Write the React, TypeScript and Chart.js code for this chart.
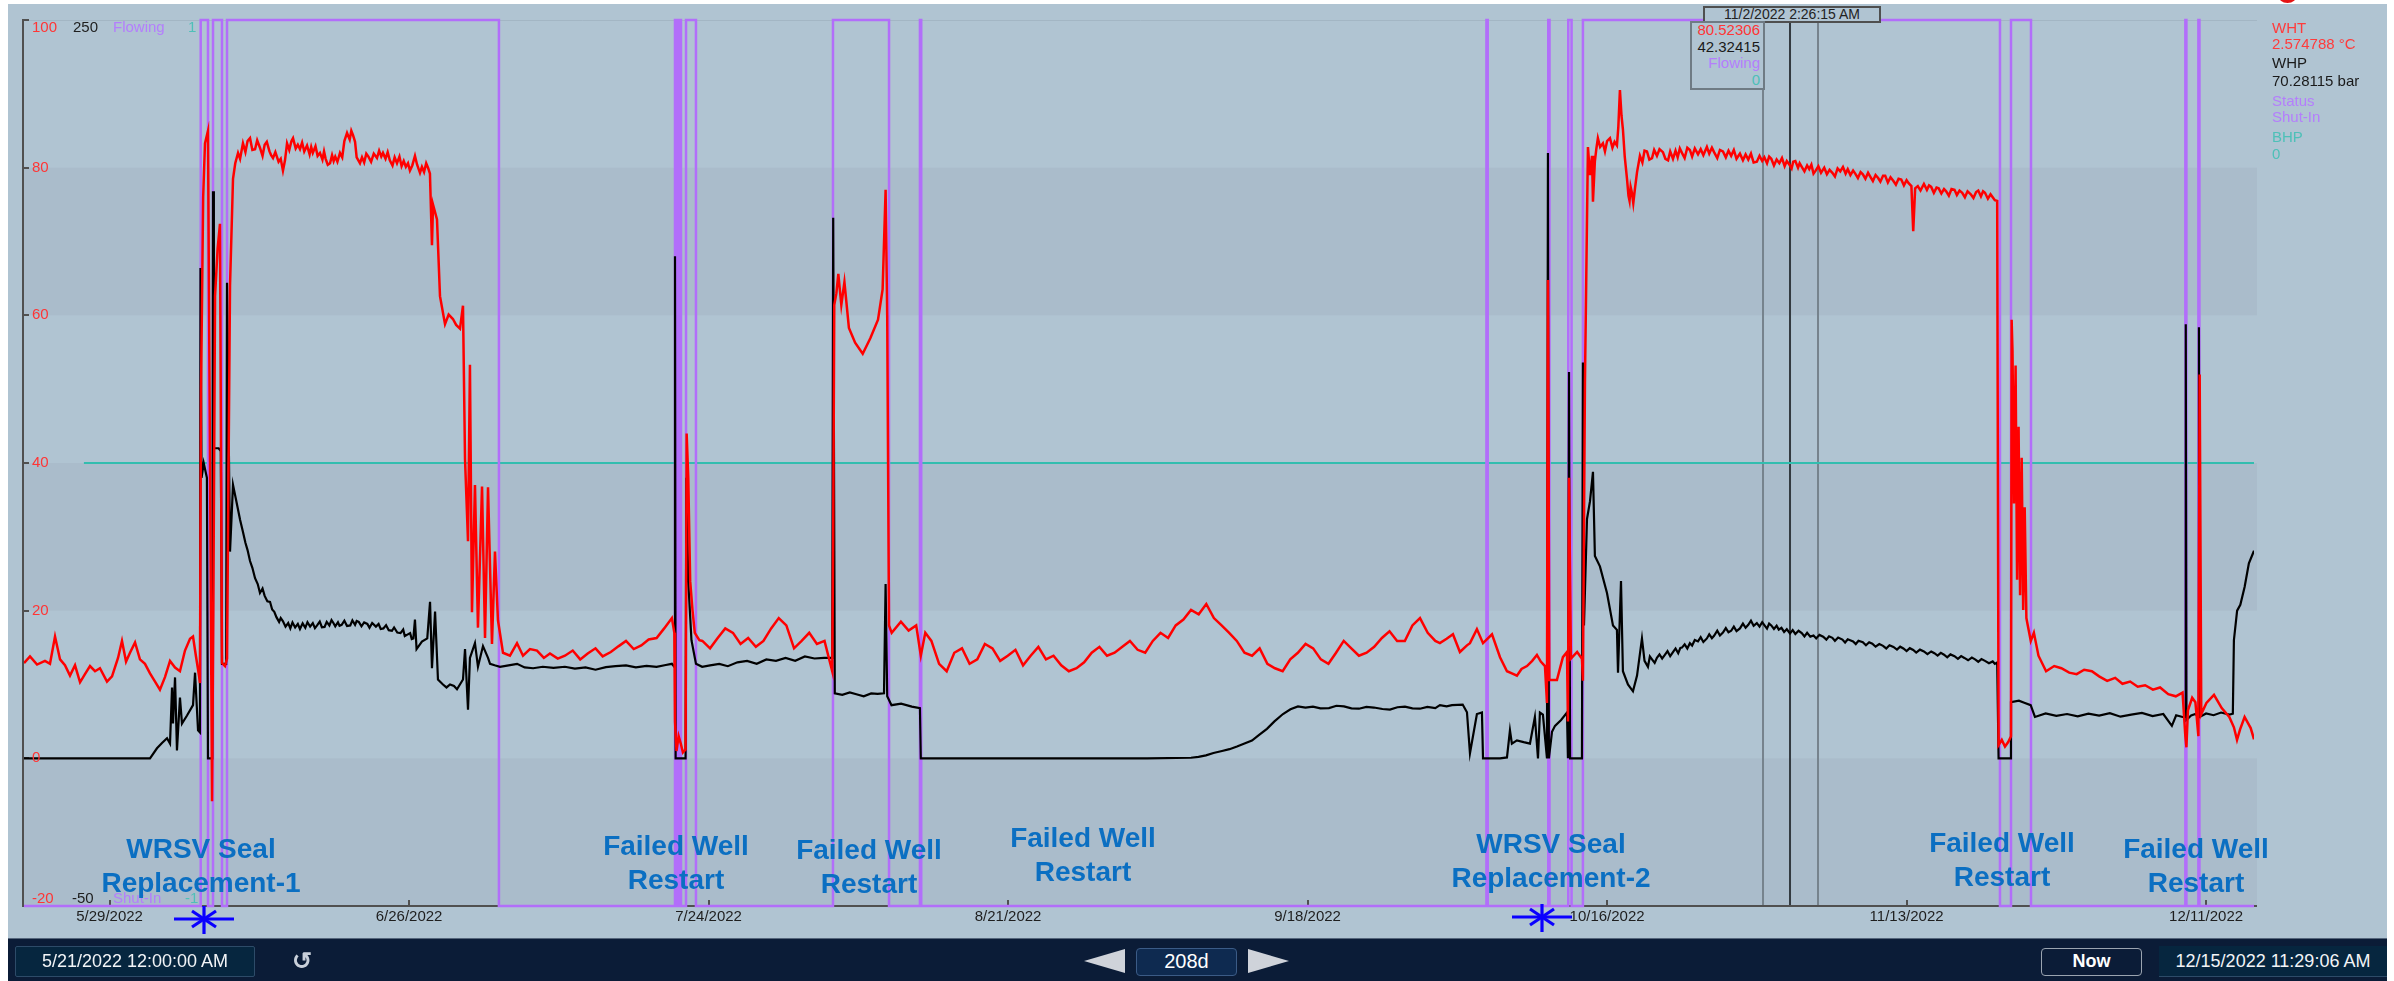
import React, { useEffect, useRef } from 'react';
import { Chart, registerables } from 'chart.js';

Chart.register(...registerables);

const FONT = '"Liberation Sans", Arial, Helvetica, sans-serif';

// x axis: days since 5/21/2022 00:00 up to 12/15/2022 11:29:06
const X_MIN = 0;
const X_MAX = 208.4785;
const dateTickDays = [8, 36, 64, 92, 120, 148, 176, 204];
const dateTickLabels = ['5/29/2022', '6/26/2022', '7/24/2022', '8/21/2022', '9/18/2022', '10/16/2022', '11/13/2022', '12/11/2022'];
const whtTicks = [100, 80, 60, 40, 20, 0, -20];
const darkBands: [number, number][] = [[80, 60], [40, 20], [0, -20]];
const cursorDay = 165.101; // 11/2/2022 2:26:15 AM

// WHT (°C), [day, value]
const whtPoints: [number, number][] = [
  [0, 12.9], [0.56, 13.8], [1.22, 12.7], [1.96, 13.2], [2.43, 12.8], [2.9, 16.5], [3.37, 13.4], [3.83, 12.6], [4.3, 11.2], [4.77, 12.6], [5.24, 10.3], [5.7, 11.4], [6.17, 12.5], [6.64, 11.8], [7.1, 12.2], [7.76, 10.4], [8.23, 11.1], [8.79, 13.6], [9.16, 15.9], [9.54, 13.1], [9.91, 14.3], [10.38, 15.7], [10.84, 13.4], [11.31, 12.8], [11.78, 11.5], [12.25, 10.4], [12.71, 9.3], [13.18, 11], [13.65, 13.2], [14.12, 12.3], [14.58, 11.8], [15.05, 14.6], [15.52, 16.2], [15.8, 16.5], [16.08, 13.8], [16.36, 11.2], [16.45, 10.2],
  [16.55, 50], [16.75, 76], [16.92, 83.3], [17.2, 85], [17.39, 40], [17.58, -5.8], [17.7, 20], [17.86, 62.6], [18.1, 69], [18.32, 72.4], [18.51, 12.9], [18.79, 12.5], [18.98, 13.5], [19.26, 64],
  [19.54, 78.5], [19.75, 80.6], [20.01, 82], [20.2, 81.2], [20.47, 83.3], [20.7, 82.1], [20.9, 83.6], [21.13, 84], [21.35, 82.4], [21.6, 82.5], [21.8, 83.7], [22.06, 82.7], [22.3, 81.6], [22.5, 83.1], [22.7, 83.5], [22.95, 82.2], [23.1, 81.7], [23.28, 81.3], [23.5, 82.1], [23.8, 80.8], [24.0, 81.2], [24.21, 79.6], [24.4, 81], [24.59, 83.3], [24.8, 82.4], [25.0, 83.6], [25.15, 84], [25.4, 82.6], [25.6, 83.1], [25.8, 82.5], [26.0, 83.4], [26.2, 82.2], [26.46, 83], [26.7, 81.8], [26.85, 82.8], [27.0, 82], [27.25, 82.9], [27.45, 81.6], [27.67, 82], [27.9, 81.1], [28.05, 82.2], [28.2, 81.2], [28.4, 80.4], [28.61, 80.6], [28.8, 81.7], [28.95, 80.9], [29.1, 81.5], [29.3, 80.8], [29.54, 82], [29.75, 81.4], [29.95, 83.6], [30.2, 84.7], [30.45, 83.8], [30.6, 85], [30.76, 84.4], [30.95, 83.5], [31.1, 81.4], [31.41, 80.6], [31.6, 81.4], [31.8, 80.7], [32.0, 81.9], [32.2, 81.5], [32.45, 80.8], [32.7, 81.9], [33.0, 81.3], [33.2, 82.3], [33.4, 81.5], [33.56, 82], [33.8, 81.2], [34.0, 82.1], [34.2, 81], [34.45, 80.3], [34.65, 81.4], [34.87, 80.6], [35.1, 81.5], [35.3, 80.2], [35.5, 80.9], [35.7, 80.1], [35.9, 80.6], [36.08, 79.6], [36.3, 80.3], [36.55, 81.6], [36.75, 80.4], [37.02, 79.3], [37.2, 80.1], [37.4, 79.4], [37.6, 80.6], [37.77, 80], [37.95, 79.2],
  [38.14, 69.5], [38.24, 75], [38.61, 73], [38.89, 62.6], [39.36, 58.8], [39.7, 60.1], [40.1, 59.5], [40.4, 58.7], [40.76, 58.2], [41.04, 61.3], [41.23, 40.5], [41.51, 29.4], [41.69, 53.3], [41.88, 19.8], [42.16, 37], [42.44, 17.7], [42.82, 36.8], [43.1, 16.3], [43.38, 36.7], [43.75, 15.5], [44.03, 28], [44.31, 18.7], [44.78, 14.3],
  [45.43, 13.9], [46.09, 15.6], [46.65, 13.9], [47.3, 14.8], [47.96, 14.6], [48.6, 13.6], [49.17, 14.2], [49.9, 13.5], [50.57, 13.9], [51.3, 14.6], [52.0, 13.4], [52.7, 14.2], [53.43, 14.9], [54.1, 13.8], [54.86, 14.4], [55.6, 15.2], [56.28, 15.9], [57.0, 14.8], [57.71, 15.3], [58.4, 16.1], [59.14, 16.3], [59.85, 17.6], [60.57, 19], [60.8, 17],
  [60.86, 5], [61.0, 1], [61.2, 3], [61.4, 2], [61.6, 0.8], [61.85, 1.2], [61.95, 44], [62.1, 38], [62.28, 24], [62.5, 20], [62.71, 17], [63.14, 16], [63.42, 15.9], [64.14, 14.9], [64.85, 16.3], [65.56, 17.6], [66.28, 17], [66.99, 15.5], [67.7, 16.3], [68.42, 15.1], [69.13, 15.9], [69.85, 17.6], [70.56, 19], [71.27, 18], [71.99, 14.9], [72.7, 15.9], [73.41, 17], [74.13, 15.5], [74.84, 15.9], [75.56, 11.8],
  [75.65, 30], [75.75, 61.4], [75.95, 63], [76.13, 65.6], [76.41, 61.4], [76.7, 64.5], [77.12, 58.3], [77.7, 56.3], [78.41, 54.8], [79.12, 56.9], [79.84, 59.4], [80.27, 63.5], [80.55, 77], [80.7, 60], [80.87, 18], [81.12, 17], [81.98, 18.5], [82.7, 17.3], [83.41, 18],
  [83.84, 13.9], [84.26, 17], [84.83, 15.9], [85.55, 12.8], [86.26, 11.8], [86.97, 14.3], [87.69, 14.9], [88.4, 12.8], [89.12, 13.4], [89.83, 15.5], [90.54, 14.9], [91.26, 13.2], [91.97, 13.9], [92.69, 14.7], [93.4, 12.6], [94.11, 13.9], [94.83, 15.1], [95.54, 13.4], [96.25, 13.9], [96.97, 12.6], [97.68, 11.8], [98.4, 12.2], [99.11, 13], [99.82, 14.3], [100.54, 15.1], [101.25, 13.9], [101.96, 14.3], [102.68, 15.1], [103.39, 15.9], [104.11, 14.7], [104.82, 14.3], [105.53, 15.9], [106.25, 17], [106.96, 16.3], [107.67, 18], [108.39, 18.8], [109.1, 20.1], [109.82, 19.5], [110.53, 20.9], [111.24, 19], [111.96, 18], [112.67, 17], [113.38, 15.9], [114.1, 14.3], [114.81, 13.9], [115.52, 14.9], [116.24, 12.8], [116.95, 12.2], [117.67, 11.8], [118.38, 13.4], [119.09, 14.3], [119.81, 15.5], [120.52, 14.9], [121.24, 13.4], [121.95, 12.8], [122.66, 14.3], [123.38, 15.9], [124.09, 14.9], [124.8, 13.9], [125.52, 14.3], [126.23, 15.1], [126.95, 16.3], [127.66, 17.2], [128.37, 15.9], [129.09, 15.9], [129.8, 18], [130.51, 19], [131.23, 17], [131.94, 15.9],
  [132.37, 15.6], [133.0, 16.2], [133.59, 16.8], [134.24, 14.4], [134.9, 15.3], [135.18, 15.6], [135.83, 17.5], [136.4, 15.6], [137.24, 16.8], [137.99, 13.7], [138.64, 11.8], [139.1, 11.5], [139.57, 11.2], [140.0, 12.1], [140.51, 12.5], [141.0, 13.2], [141.44, 14], [141.8, 13.1], [142.19, 12.5], [142.38, 7.5], [142.47, 64.8], [142.6, 10.6], [143.31, 10.6], [143.87, 13.7], [144.25, 14.4], [144.34, 5], [144.44, 38], [144.62, 13.5], [145.2, 14.4], [145.65, 13.5], [145.74, 10.5], [145.93, 51], [146.12, 72.8], [146.21, 82.8], [146.4, 79], [146.59, 81.6], [146.68, 75.4], [146.86, 80.9],
  [147.0, 82.6], [147.14, 84], [147.35, 82.8], [147.61, 83.3], [147.8, 82.2], [148.0, 83.6], [148.27, 84], [148.5, 82.7], [148.7, 83.5], [148.92, 83], [149.05, 85.5], [149.2, 90.5], [149.35, 87], [149.48, 85.2], [149.65, 81.5], [149.86, 78.5], [150.0, 76.2], [150.1, 75.5], [150.2, 77.4], [150.32, 76.6], [150.45, 75.2], [150.6, 77.1], [150.8, 79.4], [151.07, 81.6], [151.3, 80.7], [151.5, 82.3], [151.73, 82.2], [151.95, 81.1], [152.2, 81.3], [152.4, 82.4], [152.66, 81.6], [152.9, 82.5], [153.22, 82.1], [153.45, 81.2], [153.7, 81.0], [153.9, 82.2], [154.16, 81.2], [154.4, 82.3], [154.6, 81.4], [154.8, 82.6], [155.0, 82.0], [155.25, 81.3], [155.5, 82.7], [155.74, 82.4], [155.95, 81.5], [156.2, 82.6], [156.5, 81.8], [156.75, 82.5], [157.0, 81.7], [157.33, 82.8], [157.55, 81.9], [157.8, 82.7], [158.0, 82.1], [158.3, 81.3], [158.55, 82.4], [158.83, 82.2], [159.1, 81.4], [159.35, 82.3], [159.6, 81.6], [159.85, 82.4], [160.1, 81.2], [160.42, 81.9], [160.7, 81.0], [160.95, 81.8], [161.2, 81.1], [161.45, 81.9], [161.7, 80.7], [162.0, 80.8], [162.25, 81.6], [162.5, 80.9], [162.7, 81.4], [162.95, 80.6], [163.15, 81.5], [163.35, 81.2], [163.6, 80.3], [163.85, 81.1], [164.1, 80.6], [164.35, 81.3], [164.6, 80.2], [164.8, 80.9], [165.0, 80.5], [165.25, 79.9], [165.4, 80.8], [165.6, 80.9], [165.85, 80.0], [166.0, 80.6], [166.2, 80.1], [166.45, 79.5], [166.7, 80.3], [166.9, 79.8], [167.1, 80.4], [167.3, 79.2], [167.5, 79.6], [167.75, 80.2], [168.0, 79.3], [168.3, 80.0], [168.55, 79.1], [168.8, 79.7], [169.06, 79.3], [169.3, 78.8], [169.55, 79.9], [169.8, 79.5], [170.05, 80.1], [170.3, 79.2], [170.5, 79.8], [170.75, 79.0], [171.0, 79.6], [171.2, 79.2], [171.45, 78.6], [171.7, 79.4], [171.91, 79.1], [172.15, 78.5], [172.4, 79.3], [172.6, 78.8], [172.85, 78.2], [173.1, 79.0], [173.34, 78.6], [173.55, 78.1], [173.8, 78.9], [174.0, 78.9], [174.25, 78.0], [174.5, 78.7], [174.77, 78.2], [175.0, 77.7], [175.25, 78.5], [175.5, 78.4], [175.75, 77.6], [176.0, 78.3], [176.19, 77.9], [176.45, 77.5], [176.62, 71.4], [176.8, 77.2], [177.05, 77.5], [177.3, 76.9], [177.62, 77.8], [177.9, 77.0], [178.1, 77.6], [178.3, 77.4], [178.55, 76.6], [178.8, 77.3], [179.0, 77.2], [179.25, 76.5], [179.5, 77.1], [179.7, 76.8], [179.95, 76.2], [180.2, 77.1], [180.48, 77.0], [180.7, 76.3], [180.95, 76.9], [181.2, 76.6], [181.45, 76.0], [181.7, 76.8], [182.0, 76.4], [182.25, 75.9], [182.5, 76.7], [182.7, 76.9], [182.95, 76.1], [183.15, 76.8], [183.33, 76.6], [183.6, 75.8], [183.85, 76.4], [184.05, 76.0], [184.25, 75.6], [184.47, 75.5],
  [184.6, 1.8], [184.9, 2.5], [185.2, 1.6], [185.5, 2.2], [185.76, 3], [185.82, 59.4], [185.9, 55.2], [186.04, 34.5], [186.19, 53.2], [186.33, 24.2], [186.47, 44.9], [186.61, 22.1], [186.76, 40.7], [186.9, 20.1], [187.04, 34], [187.2, 19], [187.33, 18], [187.61, 15.9], [187.9, 17], [188.33, 13.9], [189.04, 11.8], [189.8, 12.5], [190.47, 12.2], [191.2, 11.6], [191.9, 11.4], [192.6, 12.0], [193.32, 11.8], [194.0, 11.1], [194.75, 10.5], [195.5, 10.9], [196.18, 10.1], [196.9, 10.4], [197.61, 9.7], [198.3, 9.9], [199.03, 9.3], [199.7, 9.6], [200.46, 8.7], [201.17, 8.4], [201.8, 8.9], [202.06, 3], [202.16, 1.5], [202.3, 6.5], [202.7, 8.2], [203.0, 7.6], [203.28, 3], [203.4, 52], [203.55, 6], [204.03, 7.5], [204.74, 8.6], [205.46, 6.8], [206.17, 5.6], [206.6, 4.2], [206.89, 2.5], [207.17, 3.9], [207.6, 5.6], [208.17, 4.1], [208.48, 2.57],
];

// WHP (bar), [day, value]
const whpPoints: [number, number][] = [
  [0, 0], [2, 0], [4, 0], [6, 0], [8, 0], [10, 0], [11.78, 0], [12.43, 3.4], [12.9, 5.2], [13.37, 6.8], [13.65, 5], [13.84, 24], [13.93, 11.8], [14.12, 27.4], [14.3, 2.7], [14.58, 20.6], [14.77, 11.8], [15.24, 14.5], [15.8, 18], [15.99, 29], [16.27, 9.5], [16.45, 8.8],
  [16.5, 166], [16.6, 95], [16.8, 100], [17.1, 95], [17.2, 0], [17.6, 0], [17.67, 192], [17.75, 105], [18.2, 105], [18.4, 104], [18.51, 32], [18.9, 32], [18.98, 161], [19.26, 70], [19.54, 92.6], [19.8, 88], [20.2, 80.8],
  [20.45, 77], [20.7, 73], [20.9, 70.5], [21.13, 66.8], [21.35, 64.5], [21.6, 61], [21.85, 59], [22.06, 56], [22.3, 57.5], [22.5, 55], [22.75, 53.2], [23.0, 53], [23.2, 50.4], [23.4, 49.6], [23.6, 47.8], [23.85, 46.2], [24.0, 47.5], [24.2, 46.5], [24.45, 44.6], [24.7, 45.8], [24.9, 44], [25.1, 46], [25.35, 44.3], [25.6, 45.5], [25.8, 43.8], [26.05, 45.7], [26.3, 44.2], [26.5, 46.1], [26.75, 44.6], [27.0, 45.8], [27.2, 44.1], [27.4, 45], [27.65, 46.3], [27.85, 44.4], [28.1, 44.5], [28.3, 46.2], [28.55, 45], [28.75, 46.8], [28.9, 46], [29.1, 44.7], [29.35, 46.1], [29.5, 44.9], [29.7, 45.2], [29.95, 46.6], [30.2, 44.8], [30.5, 45], [30.7, 46.7], [30.95, 45.2], [31.1, 46.5], [31.3, 46.2], [31.55, 44.7], [31.8, 46], [32.1, 45.5], [32.3, 44.2], [32.55, 45.8], [32.9, 44.6], [33.15, 45.5], [33.35, 43.8], [33.6, 44], [33.85, 45.1], [34.1, 43.4], [34.4, 43.2], [34.6, 44.3], [34.9, 42.6], [35.2, 42.4], [35.45, 43.6], [35.6, 41.4], [35.8, 41.8], [36.1, 42.4], [36.25, 40.4], [36.4, 40.6],
  [36.55, 47], [36.7, 37], [37.2, 39.5], [37.7, 40.6], [37.96, 53], [38.14, 30.5], [38.43, 49.7], [38.7, 26.7], [39.17, 25], [39.5, 24], [39.83, 25], [40.2, 24.5], [40.48, 23.4], [41.04, 26.7], [41.23, 37], [41.51, 16.5], [41.69, 34], [42.16, 39], [42.44, 31], [42.91, 38], [43.38, 34], [43.57, 32], [44.0, 31.5], [44.5, 31],
  [45.3, 31.5], [46.1, 32], [46.8, 30.8], [47.6, 30.5], [48.5, 31], [49.5, 30.6], [50.57, 31], [51.5, 30.4], [52.5, 30.8], [53.43, 30], [54.4, 30.9], [55.3, 31.2], [56.28, 31.5], [57.2, 30.8], [58.2, 31.3], [59.14, 31], [60.0, 31.6], [60.57, 32], [60.8, 31],
  [60.86, 170], [60.92, 0], [61.4, 0], [61.85, 0], [61.92, 95], [62.1, 60], [62.4, 40], [62.82, 32], [63.4, 31], [64.14, 31.5], [65.0, 32], [65.8, 31.2], [66.7, 32.5], [67.6, 33], [68.5, 32], [69.4, 33.5], [70.3, 33], [71.2, 34], [72.1, 33], [73.0, 34.5], [73.9, 33.8], [74.8, 34], [75.56, 34],
  [75.65, 183], [75.8, 22], [76.5, 21.5], [77.2, 22.3], [77.9, 21.6], [78.5, 21], [79.2, 22], [79.8, 21.8], [80.4, 22], [80.55, 59], [80.7, 21], [81.1, 18], [82.0, 18.5], [83.0, 17.5], [83.76, 17], [83.84, 0],
  [86, 0], [90, 0], [95, 0], [100, 0], [105, 0], [109.1, 0.2], [109.8, 0.5], [110.5, 1], [111.2, 1.8], [112.0, 2.5], [112.7, 3.1], [113.4, 4], [114.1, 5], [114.8, 6], [115.5, 8], [116.2, 10], [116.9, 12.5], [117.7, 15], [118.4, 16.6], [119.1, 17.6], [119.8, 17.2], [120.5, 17.5], [121.2, 16.9], [122.0, 17], [122.7, 17.8], [123.4, 17.6], [124.1, 16.9], [124.8, 16.8], [125.5, 17.4], [126.2, 17.2], [127.0, 16.7], [127.7, 16.5], [128.4, 17.3], [129.1, 17.5], [129.8, 16.9], [130.5, 16.8], [131.2, 17.4], [131.94, 17],
  [132.37, 18], [133.0, 17.6], [133.5, 18], [134.5, 18.2], [134.9, 15.6], [135.18, 1.7], [135.83, 15], [136.3, 15.5], [136.4, 0], [137, 0], [138, 0], [138.64, 0.3], [138.92, 9.5], [139.1, 5], [139.57, 6.1], [140.2, 5.5], [140.79, 5], [141.25, 14], [141.54, 0], [141.72, 15.5], [142.0, 14.8], [142.38, 0], [142.47, 205], [142.56, 0], [142.85, 9], [143.13, 11], [143.7, 13], [144.25, 15.5], [144.34, 0], [144.44, 130.8], [144.54, 0], [145.65, 0], [145.74, 134], [145.84, 45], [146.12, 81], [146.4, 87], [146.68, 97], [146.86, 68.5], [147.33, 65], [147.99, 56], [148.55, 45], [148.92, 43.5], [149.02, 29], [149.3, 60], [149.48, 29.5], [149.95, 25], [150.42, 22.7], [150.8, 28],
  [151.26, 40.6], [151.5, 33], [151.82, 31], [152.0, 34.5], [152.2, 33.5], [152.45, 32.3], [152.66, 34], [152.9, 35.2], [153.15, 33.8], [153.4, 35], [153.65, 36.3], [153.9, 34.6], [154.16, 36], [154.4, 37.2], [154.65, 35.6], [154.85, 37.4], [155.0, 37.5], [155.25, 38.6], [155.5, 37.2], [155.74, 39], [155.95, 38.2], [156.2, 40.1], [156.5, 39.6], [156.75, 41], [157.0, 39.4], [157.33, 40.6], [157.55, 42], [157.8, 40.7], [158.0, 41.5], [158.3, 43.2], [158.55, 41.6], [158.83, 42.6], [159.1, 44.1], [159.35, 42.7], [159.6, 43.2], [159.85, 44.6], [160.1, 43.1], [160.42, 44], [160.7, 45.6], [160.95, 44.2], [161.2, 45.2], [161.45, 46.6], [161.7, 44.9], [162.0, 45.8], [162.25, 44.6], [162.5, 46.1], [162.7, 45.1], [162.95, 43.9], [163.15, 45.6], [163.35, 45], [163.6, 43.8], [163.85, 44.9], [164.05, 43.6], [164.3, 44.2], [164.55, 42.8], [164.8, 43.7], [165.1, 42.3], [165.35, 43.4], [165.6, 42.1], [165.9, 43.2], [166.2, 42.4], [166.45, 41.3], [166.7, 42.5], [167.0, 41.2], [167.3, 41.6], [167.55, 40.6], [167.85, 41.8], [168.2, 41.2], [168.5, 40.2], [168.75, 41.3], [169.06, 40.8], [169.3, 39.8], [169.6, 40.9], [170.0, 40.2], [170.25, 39.2], [170.5, 40.3], [171.0, 39.6], [171.25, 38.7], [171.5, 39.8], [171.91, 39.3], [172.2, 38.3], [172.5, 39.3], [172.8, 38.8], [173.1, 37.8], [173.45, 38.7], [173.8, 38.1], [174.1, 37.2], [174.4, 38.3], [174.77, 37.7], [175.1, 36.8], [175.4, 37.8], [175.7, 37.2], [176.0, 36.3], [176.3, 37.3], [176.62, 36.7], [176.9, 35.8], [177.25, 36.8], [177.62, 36.2], [177.95, 35.3], [178.3, 36.2], [178.6, 35.6], [178.9, 34.8], [179.2, 35.7], [179.5, 35.1], [179.8, 34.2], [180.1, 35.2], [180.48, 34.6], [180.8, 33.7], [181.1, 34.6], [181.4, 34], [181.75, 33.2], [182.1, 34.1], [182.4, 33.5], [182.7, 32.7], [183.0, 33.6], [183.33, 33], [183.7, 32.2], [184.05, 32.8], [184.25, 32], [184.47, 32.5],
  [184.6, 0], [185.7, 0], [185.76, 19], [186.5, 19.5], [187.0, 18.8], [187.6, 18], [188.0, 14], [189.0, 15.2], [190.0, 14.4], [191.0, 15], [192.0, 14.2], [193.0, 15.1], [194.0, 14.5], [195.0, 15.3], [196.0, 14.1], [197.0, 14.8], [198.0, 15.4], [199.0, 14.3], [200.0, 15], [200.8, 11], [201.2, 14.6], [201.8, 14], [202.06, 14], [202.1, 147], [202.16, 13], [202.6, 14.5], [203.0, 15], [203.28, 14], [203.33, 146], [203.4, 14], [204.0, 15.2], [204.7, 14.6], [205.4, 15.5], [206.17, 14.8], [206.5, 15.1], [206.6, 40], [206.9, 50], [207.2, 52], [207.6, 58], [208.0, 66], [208.48, 70.3],
];

// Status: 1 = Flowing, -1 = Shut-In, [day, state from that day]
const statusPoints: [number, number][] = [
  [0, -1], [16.52, 1], [17.2, -1], [17.67, 1], [18.51, -1], [18.98, 1], [44.4, -1],
  [60.86, 1], [60.96, -1], [61.04, 1], [61.14, -1], [61.22, 1], [61.32, -1], [61.38, 1], [61.42, -1],
  [61.89, 1], [62.82, -1], [75.63, 1], [80.87, -1], [83.76, 1], [83.88, -1],
  [136.72, 1], [136.84, -1], [142.5, 1], [142.62, -1], [144.37, 1], [144.68, -1], [145.74, 1], [184.73, -1], [185.76, 1], [187.63, -1],
  [202.06, 1], [202.16, -1], [203.28, 1], [203.38, -1], [208.48, -1],
];

// BHP
const bhpPoints: [number, number][] = [[5.6, 0], [208.48, 0]];

const annotations: { x: number; y: number; lines: string[] }[] = [
  { x: 201, y: 849, lines: ['WRSV Seal', 'Replacement-1'] },
  { x: 676, y: 846, lines: ['Failed Well', 'Restart'] },
  { x: 869, y: 850, lines: ['Failed Well', 'Restart'] },
  { x: 1083, y: 838, lines: ['Failed Well', 'Restart'] },
  { x: 1551, y: 844, lines: ['WRSV Seal', 'Replacement-2'] },
  { x: 2002, y: 843, lines: ['Failed Well', 'Restart'] },
  { x: 2196, y: 849, lines: ['Failed Well', 'Restart'] },
];
const asterisks = [{ x: 204, y: 919 }, { x: 1542, y: 917 }];

const toXY = (pts: [number, number][]) => pts.map(([x, y]) => ({ x, y }));

const trendPlugin = {
  id: 'trendDecor',
  beforeDatasetsDraw(chart: any) {
    const { ctx, chartArea: a, scales } = chart;
    const xs = scales.x;
    const ys = scales.y;
    ctx.save();
    ctx.fillStyle = '#aabccb';
    for (const [hi, lo] of darkBands) {
      const y1 = ys.getPixelForValue(hi);
      const y2 = ys.getPixelForValue(lo);
      ctx.fillRect(a.left, y1, a.right + 3 - a.left, y2 - y1);
    }
    ctx.strokeStyle = '#a3b6c4';
    ctx.lineWidth = 1;
    ctx.beginPath();
    ctx.moveTo(a.left, a.top + 0.5);
    ctx.lineTo(a.right + 3, a.top + 0.5);
    ctx.stroke();
    // cursor lines
    const cx = xs.getPixelForValue(cursorDay);
    ctx.lineWidth = 2;
    ctx.strokeStyle = '#76838d';
    for (const dx of [-27, 28]) {
      ctx.beginPath();
      ctx.moveTo(cx + dx, a.top + 1);
      ctx.lineTo(cx + dx, a.bottom);
      ctx.stroke();
    }
    ctx.strokeStyle = '#333a40';
    ctx.beginPath();
    ctx.moveTo(cx, a.top + 1);
    ctx.lineTo(cx, a.bottom);
    ctx.stroke();
    // axes
    ctx.strokeStyle = '#505050';
    ctx.lineWidth = 2;
    ctx.beginPath();
    ctx.moveTo(a.left + 5, a.top);
    ctx.lineTo(a.left - 1, a.top);
    ctx.lineTo(a.left - 1, a.bottom);
    ctx.lineTo(a.right + 3, a.bottom);
    ctx.stroke();
    for (const v of whtTicks.slice(1, -1)) {
      const py = Math.round(ys.getPixelForValue(v));
      ctx.beginPath();
      ctx.moveTo(a.left - 1, py);
      ctx.lineTo(a.left + 5, py);
      ctx.stroke();
    }
    for (const d of dateTickDays) {
      const px = Math.round(xs.getPixelForValue(d));
      ctx.beginPath();
      ctx.moveTo(px, a.bottom - 6);
      ctx.lineTo(px, a.bottom);
      ctx.stroke();
    }
    ctx.restore();
  },
  afterDatasetsDraw(chart: any) {
    const { ctx, chartArea: a, scales } = chart;
    const xs = scales.x;
    const ys = scales.y;
    ctx.save();
    ctx.font = `15px ${FONT}`;
    ctx.textBaseline = 'middle';
    ctx.textAlign = 'left';
    const lx = a.left + 8;
    for (const v of whtTicks) {
      let py = ys.getPixelForValue(v);
      if (v === 100) py = a.top + 8;
      if (v === -20) py = a.bottom - 7;
      ctx.fillStyle = '#ff3535';
      ctx.fillText(String(v), lx, py);
    }
    const topY = a.top + 8;
    const botY = a.bottom - 7;
    ctx.fillStyle = '#1e1e1e';
    ctx.fillText('250', lx + 41, topY);
    ctx.fillText('-50', lx + 40, botY);
    ctx.fillStyle = '#b47efc';
    ctx.fillText('Flowing', lx + 81, topY);
    ctx.fillText('Shut-In', lx + 81, botY);
    ctx.fillStyle = '#4ec0b8';
    ctx.fillText('1', lx + 156, topY);
    ctx.fillText('-1', lx + 153, botY);
    ctx.fillStyle = '#1e1e1e';
    ctx.textAlign = 'center';
    dateTickDays.forEach((d, i) => {
      ctx.fillText(dateTickLabels[i], xs.getPixelForValue(d), a.bottom + 11);
    });
    ctx.restore();
  },
};

const abs = (o: React.CSSProperties): React.CSSProperties => ({ position: 'absolute', ...o });

export default function App() {
  const ref = useRef<HTMLCanvasElement>(null);
  useEffect(() => {
    if (!ref.current) return;
    const chart = new Chart(ref.current, {
      type: 'line',
      data: {
        datasets: [
          { label: 'WHT', data: toXY(whtPoints), yAxisID: 'y', borderColor: '#ff0000', borderWidth: 2.5, pointRadius: 0, order: 0 },
          { label: 'WHP', data: toXY(whpPoints), yAxisID: 'yWhp', borderColor: '#000000', borderWidth: 2.2, pointRadius: 0, order: 1 },
          { label: 'Status', data: toXY(statusPoints), yAxisID: 'yStatus', borderColor: '#b26efa', borderWidth: 2.5, pointRadius: 0, stepped: 'before', clip: false, order: 2 },
          { label: 'BHP', data: toXY(bhpPoints), yAxisID: 'yBhp', borderColor: '#33bdaf', borderWidth: 1.8, pointRadius: 0, order: 3 },
        ] as any,
      },
      options: {
        animation: false,
        responsive: false,
        maintainAspectRatio: false,
        events: [],
        layout: { padding: { left: 16, top: 16, right: 133, bottom: 32 } },
        plugins: { legend: { display: false }, tooltip: { enabled: false } },
        elements: { point: { radius: 0 }, line: { tension: 0 } },
        scales: {
          x: { type: 'linear', display: false, min: X_MIN, max: X_MAX },
          y: { axis: 'y', display: false, min: -20, max: 100 },
          yWhp: { axis: 'y', display: false, min: -50, max: 250 },
          yStatus: { axis: 'y', display: false, min: -1, max: 1 },
          yBhp: { axis: 'y', display: false, min: -1, max: 1 },
        } as any,
      },
      plugins: [trendPlugin as any],
    });
    return () => chart.destroy();
  }, []);

  const legend: { t: string; y: number; c: string }[] = [
    { t: 'WHT', y: 28, c: '#ff3b3b' },
    { t: '2.574788 °C', y: 44, c: '#ff3b3b' },
    { t: 'WHP', y: 63, c: '#1a1a1a' },
    { t: '70.28115 bar', y: 81, c: '#1a1a1a' },
    { t: 'Status', y: 101, c: '#b47efc' },
    { t: 'Shut-In', y: 117, c: '#b47efc' },
    { t: 'BHP', y: 137, c: '#4ec0b8' },
    { t: '0', y: 154, c: '#4ec0b8' },
  ];
  const tipVals: { t: string; y: number; c: string }[] = [
    { t: '80.52306', y: 30, c: '#ff3535' },
    { t: '42.32415', y: 47, c: '#1a1a1a' },
    { t: 'Flowing', y: 63, c: '#b47efc' },
    { t: '0', y: 80, c: '#4ec0b8' },
  ];

  return (
    <div style={abs({ left: 0, top: 0, width: 2394, height: 981, background: '#ffffff', overflow: 'hidden', fontFamily: FONT })}>
      <div style={abs({ left: 2278, top: -13, width: 19, height: 16, borderRadius: '50%', background: '#e51414' })} />
      <div style={abs({ left: 8, top: 4, width: 2379, height: 934, background: '#b0c4d2' })} />
      <canvas ref={ref} width={2379} height={934} style={abs({ left: 8, top: 4, width: 2379, height: 934 })} />

      {legend.map((l, i) => (
        <div key={i} style={abs({ left: 2272, top: l.y - 9, fontSize: 15, lineHeight: '18px', color: l.c, whiteSpace: 'nowrap' })}>{l.t}</div>
      ))}

      <div style={abs({ left: 1703, top: 6, width: 178, height: 17, boxSizing: 'border-box', border: '2px solid #4f4f4f', background: '#b0c4d2', fontSize: 14, lineHeight: '13px', textAlign: 'center', color: '#222' })}>11/2/2022 2:26:15 AM</div>
      <div style={abs({ left: 1690, top: 21, width: 75, height: 69, boxSizing: 'border-box', border: '2px solid #6f7b84', background: '#b0c4d2' })} />
      {tipVals.map((v, i) => (
        <div key={i} style={abs({ left: 1690, width: 70, top: v.y - 9, fontSize: 15, lineHeight: '18px', textAlign: 'right', color: v.c })}>{v.t}</div>
      ))}

      {annotations.map((a, i) => (
        <div key={i} style={abs({ left: a.x - 200, width: 400, top: a.y - 17, textAlign: 'center', fontSize: 28, fontWeight: 'bold', lineHeight: '34px', color: '#0b6fc2' })}>
          {a.lines[0]}<br />{a.lines[1]}
        </div>
      ))}

      {asterisks.map((s, i) => (
        <svg key={i} width={66} height={30} style={abs({ left: s.x - 33, top: s.y - 13 })}>
          <g stroke="#0a00ff" strokeWidth={3.2} strokeLinecap="butt">
            <line x1={3} y1={13} x2={63} y2={13} />
            <line x1={33} y1={0} x2={33} y2={28} />
            <line x1={21} y1={5} x2={45} y2={21} />
            <line x1={21} y1={21} x2={45} y2={5} />
          </g>
        </svg>
      ))}

      <div style={abs({ left: 8, top: 938, width: 2379, height: 43, background: '#0b1c37', borderTop: '1px solid #55667c', boxSizing: 'border-box' })} />
      <div style={abs({ left: 15, top: 946, width: 240, height: 31, boxSizing: 'border-box', background: '#06263f', border: '1px solid #2d4b68', borderRadius: 2, color: '#f2f4f7', fontSize: 18, lineHeight: '29px', textAlign: 'center' })}>5/21/2022 12:00:00 AM</div>
      <div style={abs({ left: 290, top: 946, width: 24, height: 30, color: '#c9d0da', fontSize: 24, lineHeight: '30px', textAlign: 'center', fontWeight: 'bold' })}>↺</div>

      <div style={abs({ left: 1084, top: 949, width: 0, height: 0, borderTop: '12.5px solid transparent', borderBottom: '12.5px solid transparent', borderRight: '41px solid #cfd3da' })} />
      <div style={abs({ left: 1136, top: 948, width: 101, height: 28, boxSizing: 'border-box', background: '#0e2a50', border: '1.5px solid #3b5b86', borderRadius: 4, color: '#ffffff', fontSize: 20, lineHeight: '25px', textAlign: 'center' })}>208d</div>
      <div style={abs({ left: 1248, top: 949, width: 0, height: 0, borderTop: '12.5px solid transparent', borderBottom: '12.5px solid transparent', borderLeft: '41px solid #cfd3da' })} />

      <div style={abs({ left: 2041, top: 948, width: 101, height: 28, boxSizing: 'border-box', border: '1.5px solid #9aa4b0', borderRadius: 4, color: '#ffffff', fontSize: 18, lineHeight: '25px', textAlign: 'center', fontWeight: 'bold' })}>Now</div>
      <div style={abs({ left: 2159, top: 946, width: 228, height: 31, boxSizing: 'border-box', background: '#06263f', borderBottom: '1px solid #2d4b68', color: '#f2f4f7', fontSize: 18, lineHeight: '30px', textAlign: 'center' })}>12/15/2022 11:29:06 AM</div>
    </div>
  );
}
